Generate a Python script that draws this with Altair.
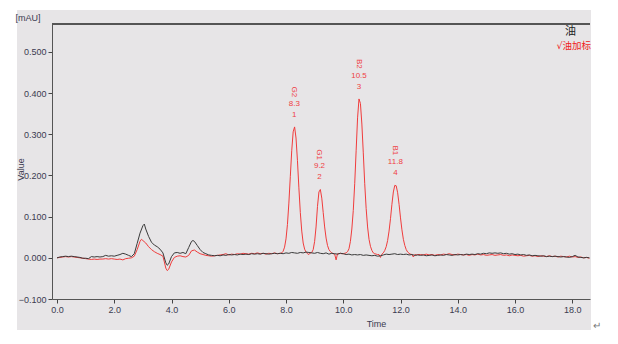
import altair as alt
import pandas as pd

# ---------------- data ----------------
black_time = [
    0.0, 0.1, 0.2, 0.3, 0.4, 0.5, 0.6, 0.7, 0.8, 0.9,
    1.0, 1.1, 1.2, 1.3, 1.4, 1.5, 1.6, 1.7, 1.8, 1.9,
    2.0, 2.1, 2.2, 2.3, 2.4, 2.5, 2.6, 2.7, 2.8, 2.9,
    3.0, 3.05, 3.1, 3.2, 3.3, 3.4, 3.5, 3.6, 3.7, 3.8, 3.85, 3.9,
    4.0, 4.1, 4.2, 4.3, 4.4, 4.5, 4.6, 4.7, 4.75, 4.8, 4.9,
    5.0, 5.1, 5.2, 5.3, 5.4, 5.5, 5.6, 5.7, 5.8, 5.9,
    6.0, 6.1, 6.2, 6.3, 6.4, 6.5, 6.6, 6.7, 6.8, 6.9,
    7.0, 7.1, 7.2, 7.3, 7.4, 7.5, 7.6, 7.7, 7.8, 7.9,
    8.0, 8.1, 8.2, 8.3, 8.4, 8.5, 8.6, 8.7, 8.8, 8.9,
    9.0, 9.1, 9.2, 9.3, 9.4, 9.5, 9.6, 9.7, 9.8, 9.9,
    10.0, 10.1, 10.2, 10.3, 10.4, 10.5, 10.6, 10.7, 10.8, 10.9,
    11.0, 11.1, 11.2, 11.3, 11.4, 11.5, 11.6, 11.7, 11.8, 11.9,
    12.0, 12.1, 12.2, 12.3, 12.4, 12.5, 12.6, 12.7, 12.8, 12.9,
    13.0, 13.1, 13.2, 13.3, 13.4, 13.5, 13.6, 13.7, 13.8, 13.9,
    14.0, 14.1, 14.2, 14.3, 14.4, 14.5, 14.6, 14.7, 14.8, 14.9,
    15.0, 15.1, 15.2, 15.3, 15.4, 15.5, 15.6, 15.7, 15.8, 15.9,
    16.0, 16.1, 16.2, 16.3, 16.4, 16.5, 16.6, 16.7, 16.8, 16.9,
    17.0, 17.1, 17.2, 17.3, 17.4, 17.5, 17.6, 17.7, 17.8, 17.9,
    18.0, 18.1, 18.2, 18.3, 18.4, 18.5, 18.6,
]
black_value = [
    0.000, 0.002, 0.003, 0.004, 0.003, 0.004, 0.003, 0.002, 0.001, -0.001,
    -0.001, -0.002, 0.003, 0.002, 0.003, 0.002, 0.003, 0.006, 0.004, 0.005,
    0.004, 0.006, 0.008, 0.011, 0.009, 0.006, 0.003, 0.010, 0.035, 0.060,
    0.078, 0.082, 0.070, 0.052, 0.038, 0.031, 0.027, 0.021, 0.012, -0.012, -0.018, -0.015,
    0.003, 0.012, 0.013, 0.011, 0.013, 0.010, 0.025, 0.040, 0.042, 0.040, 0.030,
    0.020, 0.013, 0.010, 0.007, 0.006, 0.005, 0.006, 0.005, 0.007, 0.006,
    0.008, 0.007, 0.008, 0.007, 0.009, 0.008, 0.009, 0.008, 0.010, 0.009,
    0.010, 0.009, 0.011, 0.010, 0.009, 0.010, 0.011, 0.010, 0.011, 0.010,
    0.012, 0.011, 0.013, 0.012, 0.011, 0.013, 0.012, 0.014, 0.013, 0.012,
    0.011, 0.013, 0.011, 0.010, 0.012, 0.009, 0.011, 0.010, 0.009, 0.011,
    0.010, 0.008, 0.009, 0.007, 0.008, 0.007, 0.008, 0.006, 0.007, 0.006,
    0.005, 0.006, 0.004, 0.005, 0.007, 0.009, 0.008, 0.009, 0.010, 0.008,
    0.009, 0.008, 0.009, 0.007, 0.008, 0.006, 0.007, 0.006, 0.007, 0.005,
    0.006, 0.007, 0.005, 0.006, 0.007, 0.006, 0.008, 0.007, 0.006, 0.008,
    0.007, 0.008, 0.007, 0.009, 0.008, 0.009, 0.008, 0.010, 0.009, 0.011,
    0.010, 0.012, 0.011, 0.012, 0.011, 0.012, 0.010, 0.011, 0.009, 0.010,
    0.008, 0.009, 0.007, 0.008, 0.006, 0.007, 0.005, 0.006, 0.005, 0.004,
    0.005, 0.003, 0.004, 0.003, 0.004, 0.003, 0.002, 0.003, 0.002, 0.001,
    0.003, 0.006, 0.002, 0.001, 0.000, 0.001, 0.000,
]

red_time = [
    0.0, 0.1, 0.2, 0.3, 0.4, 0.5, 0.6, 0.7, 0.8, 0.9,
    1.0, 1.1, 1.2, 1.3, 1.4, 1.5, 1.6, 1.7, 1.8, 1.9,
    2.0, 2.1, 2.2, 2.3, 2.4, 2.5, 2.6, 2.7, 2.8, 2.9, 2.95,
    3.0, 3.1, 3.2, 3.3, 3.4, 3.5, 3.6, 3.7, 3.75, 3.8, 3.85, 3.9,
    4.0, 4.1, 4.2, 4.3, 4.4, 4.5, 4.6, 4.7, 4.8, 4.9,
    5.0, 5.1, 5.2, 5.3, 5.4, 5.5, 5.6, 5.7, 5.8, 5.9,
    6.0, 6.1, 6.2, 6.3, 6.4, 6.5, 6.6, 6.7, 6.8, 6.9,
    7.0, 7.1, 7.2, 7.3, 7.4, 7.5, 7.6, 7.7, 7.8,
    7.85, 7.9, 7.95, 8.0, 8.05, 8.1, 8.15, 8.2, 8.25, 8.3,
    8.35, 8.4, 8.45, 8.5, 8.55, 8.6, 8.65, 8.7, 8.75, 8.8,
    8.85, 8.9, 8.95, 9.0, 9.05, 9.1, 9.15, 9.2, 9.25, 9.3,
    9.35, 9.4, 9.45, 9.5, 9.55, 9.6, 9.65, 9.7, 9.75, 9.8,
    9.85, 9.9, 9.95, 10.0, 10.05, 10.1, 10.15, 10.2, 10.25, 10.3,
    10.35, 10.4, 10.45, 10.5, 10.55, 10.6, 10.65, 10.7, 10.75, 10.8,
    10.85, 10.9, 10.95, 11.0, 11.05, 11.1, 11.15, 11.2, 11.25, 11.3,
    11.35, 11.4, 11.45, 11.5, 11.55, 11.6, 11.65, 11.7, 11.75, 11.8,
    11.85, 11.9, 11.95, 12.0, 12.05, 12.1, 12.15, 12.2, 12.25, 12.3,
    12.35, 12.4, 12.45, 12.5, 12.55, 12.6,
    12.7, 12.8, 12.9,
    13.0, 13.1, 13.2, 13.3, 13.4, 13.5, 13.6, 13.7, 13.8, 13.9,
    14.0, 14.1, 14.2, 14.3, 14.4, 14.5, 14.6, 14.7, 14.8, 14.9,
    15.0, 15.1, 15.2, 15.3, 15.4, 15.5, 15.6, 15.7, 15.8, 15.9,
    16.0, 16.1, 16.2, 16.3, 16.4, 16.5, 16.6, 16.7, 16.8, 16.9,
    17.0, 17.1, 17.2, 17.3, 17.4, 17.5, 17.6, 17.7, 17.8, 17.9,
    18.0, 18.1, 18.2, 18.3, 18.4, 18.5, 18.6,
]
red_value = [
    0.000, 0.001, 0.002, 0.003, 0.002, 0.003, 0.002, 0.001, 0.000, -0.001,
    -0.002, -0.003, -0.004, -0.003, -0.004, -0.003, -0.003, -0.002, -0.003, -0.002,
    -0.003, -0.004, -0.003, -0.005, -0.002, -0.001, 0.000, 0.004, 0.020, 0.040, 0.045,
    0.042, 0.036, 0.027, 0.020, 0.015, 0.011, 0.008, 0.004, -0.010, -0.025, -0.031, -0.028,
    -0.010, 0.001, 0.004, 0.005, 0.003, 0.002, 0.006, 0.017, 0.019, 0.014,
    0.010, 0.008, 0.006, 0.005, 0.004, 0.005, 0.006, 0.007, 0.008, 0.010,
    0.007, 0.009, 0.008, 0.010, 0.009, 0.011, 0.010, 0.009, 0.011, 0.010,
    0.012, 0.010, 0.011, 0.009, 0.011, 0.010, 0.012, 0.010, 0.011,
    0.012, 0.016, 0.026, 0.046, 0.081, 0.133, 0.197, 0.260, 0.306, 0.318,
    0.291, 0.236, 0.170, 0.110, 0.065, 0.036, 0.021, 0.014, 0.010, 0.008,
    0.012, 0.013, 0.020, 0.040, 0.075, 0.125, 0.160, 0.166, 0.145, 0.110,
    0.075, 0.048, 0.030, 0.020, 0.015, 0.012, 0.010, 0.009, -0.005, 0.010,
    0.010, 0.011, 0.010, 0.010, 0.011, 0.012, 0.015, 0.022, 0.040, 0.070,
    0.115, 0.180, 0.260, 0.340, 0.386, 0.375, 0.325, 0.255, 0.180, 0.120,
    0.075, 0.045, 0.028, 0.018, 0.012, 0.010, 0.009, 0.008, 0.008, 0.001,
    0.009, 0.012, 0.018, 0.027, 0.042, 0.065, 0.095, 0.130, 0.160, 0.176,
    0.175, 0.158, 0.130, 0.097, 0.068, 0.045, 0.030, 0.020, 0.014, 0.011,
    0.009, 0.008, 0.002, 0.008, 0.007, 0.008,
    0.008, 0.007, 0.009,
    0.007, 0.008, 0.006, 0.008, 0.007, 0.009, 0.008, 0.010, 0.008, 0.007,
    0.009, 0.008, 0.007, 0.008, 0.006, 0.008, 0.007, 0.009, 0.007, 0.008,
    0.006, 0.007, 0.008, 0.006, 0.007, 0.008, 0.006, 0.007, 0.005, 0.007,
    0.006, 0.005, 0.006, 0.004, 0.005, 0.006, 0.004, 0.005, 0.003, 0.005,
    0.004, 0.003, 0.005, 0.003, 0.004, 0.002, 0.004, 0.003, 0.002, 0.004,
    0.002, 0.003, 0.001, 0.002, 0.000, 0.001, -0.001,
]

series_names = ["油", "√油加标"]
series_colors = ["#3a3a3a", "#f03c3c"]

peak_names = ["G2", "G1", "B2", "B1"]
peak_rt = ["8.3", "9.2", "10.5", "11.8"]
peak_no = ["1", "2", "3", "4"]
peak_time = [8.29, 9.17, 10.55, 11.82]
peak_height = [0.318, 0.166, 0.386, 0.176]

x_ticks = [0, 2, 4, 6, 8, 10, 12, 14, 16, 18]
y_ticks = [-0.1, 0.0, 0.1, 0.2, 0.3, 0.4, 0.5]

# ---------------- build tables ----------------
lines_df = pd.concat([
    pd.DataFrame({"Time": red_time, "Value": red_value, "s": series_names[1], "o": 0}),
    pd.DataFrame({"Time": black_time, "Value": black_value, "s": series_names[0], "o": 1}),
], ignore_index=True)

peaks_df = pd.DataFrame({"Time": peak_time, "Value": peak_height,
                         "name": peak_names, "rt": peak_rt, "no": peak_no})
one = pd.DataFrame({"a": [0]})

W, H = 538, 275
RED = "#ef3f45"
LAB = "#3b3b50"

xs = alt.Scale(domain=[-0.175, 18.62], nice=False, zero=False)
ys = alt.Scale(domain=[-0.1, 0.568], nice=False, zero=False)

bg = alt.Chart(one).mark_rect(color="#e7e5e7").encode(
    x=alt.value(-35), x2=alt.value(539), y=alt.value(-14), y2=alt.value(306))

top_rule = alt.Chart(one).mark_rule(color="#555555", strokeWidth=2).encode(
    x=alt.value(0), x2=alt.value(W), y=alt.value(0))

lines = alt.Chart(lines_df).mark_line(strokeWidth=1, clip=True).encode(
    x=alt.X("Time:Q", scale=xs,
            axis=alt.Axis(values=x_ticks, format=".1f", title="Time",
                          titleX=324, titleY=24, titleBaseline="middle",
                          titleAlign="center", grid=False, zindex=1)),
    y=alt.Y("Value:Q", scale=ys,
            axis=alt.Axis(values=y_ticks, format=".3f", title="Value",
                          titleX=-32, titleY=145, titleAngle=-90,
                          titleAlign="center", titleBaseline="middle", grid=False,
                          zindex=1)),
    color=alt.Color("s:N", scale=alt.Scale(domain=series_names, range=series_colors),
                    legend=None),
    detail="s:N",
    order="o:Q",
)

base_p = alt.Chart(peaks_df).encode(x=alt.X("Time:Q", scale=xs),
                                    y=alt.Y("Value:Q", scale=ys))
lab_no = base_p.mark_text(color=RED, fontSize=8, font="Liberation Sans", dy=-12,
                          baseline="middle").encode(text="no:N")
lab_rt = base_p.mark_text(color=RED, fontSize=8, font="Liberation Sans", dy=-23,
                          baseline="middle").encode(text="rt:N")
lab_nm = base_p.mark_text(color=RED, fontSize=8, font="Liberation Sans", dx=-35,
                          angle=90, baseline="middle", align="center").encode(text="name:N")

mau = alt.Chart(one).mark_text(text="[mAU]", fontSize=9, font="Liberation Sans",
                               color=LAB, align="center", baseline="middle").encode(
    x=alt.value(-24), y=alt.value(-6.5))

leg1 = alt.Chart(one).mark_text(text=series_names[0], fontSize=11,
                                font="Noto Sans CJK SC", color="#222222",
                                align="center", baseline="middle").encode(
    x=alt.value(518.5), y=alt.value(7.5))
leg2 = alt.Chart(one).mark_text(text=series_names[1], fontSize=9.5,
                                font="DejaVu Sans, Noto Sans CJK SC", color="#f02020",
                                align="right", baseline="middle").encode(
    x=alt.value(539), y=alt.value(22))

ret = alt.Chart(one).mark_text(text="↵", fontSize=10, color="#777777",
                               align="center", baseline="middle").encode(
    x=alt.value(545), y=alt.value(302))

chart = alt.layer(
    bg, lines, top_rule, lab_no, lab_rt, lab_nm, mau, leg1, leg2, ret
).properties(
    width=W, height=H,
    autosize=alt.AutoSizeParams(type="none"),
    padding={"left": 52, "top": 24, "right": 28, "bottom": 45},
).configure(
    background="white",
).configure_view(
    stroke=None, fill=None,
).configure_axis(
    labelFont="Liberation Sans", labelFontSize=9, labelColor=LAB,
    titleFont="Liberation Sans", titleFontSize=9, titleColor=LAB, titleFontWeight="normal",
    domainColor="#555555", tickColor="#444444", tickSize=4, labelPadding=2,
)

chart.save("out.html", embed_options={"renderer": "svg", "actions": False})
